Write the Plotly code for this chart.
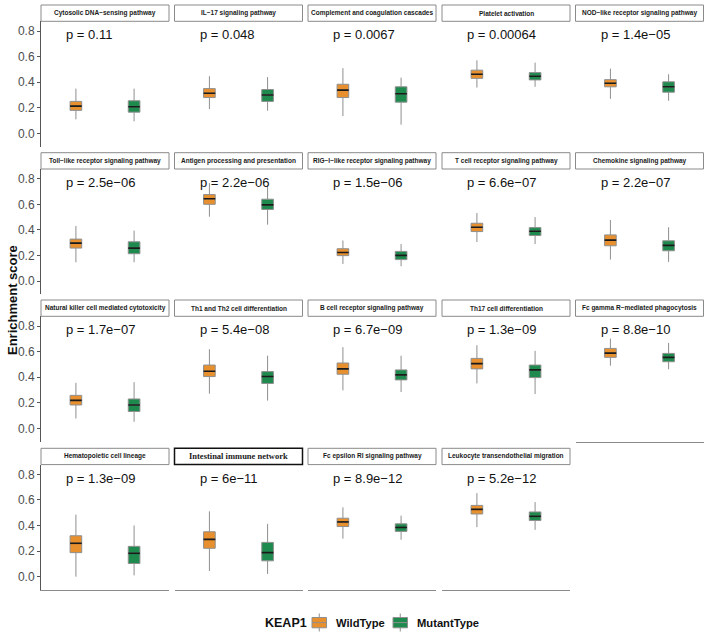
import plotly.graph_objects as go

# ---------------- data ----------------
pathways = ["Cytosolic DNA−sensing pathway", "IL−17 signaling pathway",
            "Complement and coagulation cascades", "Platelet activation",
            "NOD−like receptor signaling pathway", "Toll−like receptor signaling pathway",
            "Antigen processing and presentation", "RIG−I−like receptor signaling pathway",
            "T cell receptor signaling pathway", "Chemokine signaling pathway",
            "Natural killer cell mediated cytotoxicity", "Th1 and Th2 cell differentiation",
            "B cell receptor signaling pathway", "Th17 cell differentiation",
            "Fc gamma R−mediated phagocytosis", "Hematopoietic cell lineage",
            "Intestinal immune network", "Fc epsilon RI signaling pathway",
            "Leukocyte transendothelial migration"]

p_labels = ["p = 0.11", "p = 0.048", "p = 0.0067", "p = 0.00064", "p = 1.4e−05",
            "p = 2.5e−06", "p = 2.2e−06", "p = 1.5e−06", "p = 6.6e−07", "p = 2.2e−07",
            "p = 1.7e−07", "p = 5.4e−08", "p = 6.7e−09", "p = 1.3e−09", "p = 8.8e−10",
            "p = 1.3e−09", "p = 6e−11", "p = 8.9e−12", "p = 5.2e−12"]

legend_title = "KEAP1"
groups = ["WildType", "MutantType"]
group_colors = ["#E8902D", "#1E8A4E"]

wt_upper = [0.35, 0.447, 0.51, 0.571, 0.506, 0.431, 0.766, 0.317, 0.532, 0.477,
            0.356, 0.619, 0.635, 0.65, 0.702, 0.485, 0.511, 0.542, 0.653]
wt_q3 = [0.25, 0.35, 0.384, 0.494, 0.42, 0.328, 0.676, 0.253, 0.452, 0.361,
         0.258, 0.495, 0.511, 0.547, 0.625, 0.32, 0.351, 0.457, 0.557]
wt_med = [0.213, 0.314, 0.338, 0.462, 0.392, 0.297, 0.643, 0.224, 0.421, 0.32,
          0.219, 0.446, 0.465, 0.506, 0.588, 0.261, 0.292, 0.428, 0.526]
wt_q1 = [0.18, 0.28, 0.28, 0.43, 0.364, 0.258, 0.60, 0.199, 0.387, 0.276,
         0.183, 0.405, 0.423, 0.465, 0.555, 0.188, 0.222, 0.392, 0.49]
wt_lower = [0.11, 0.19, 0.135, 0.358, 0.27, 0.147, 0.503, 0.134, 0.305, 0.168,
            0.077, 0.271, 0.297, 0.351, 0.49, 0.0, 0.044, 0.297, 0.387]

mt_upper = [0.35, 0.44, 0.436, 0.553, 0.462, 0.395, 0.746, 0.289, 0.50, 0.421,
            0.361, 0.568, 0.568, 0.606, 0.668, 0.40, 0.413, 0.477, 0.583]
mt_q3 = [0.255, 0.343, 0.364, 0.475, 0.403, 0.307, 0.64, 0.232, 0.418, 0.315,
         0.23, 0.444, 0.457, 0.495, 0.586, 0.237, 0.268, 0.413, 0.506]
mt_med = [0.208, 0.30, 0.31, 0.447, 0.364, 0.258, 0.596, 0.201, 0.39, 0.279,
          0.183, 0.405, 0.418, 0.457, 0.555, 0.183, 0.188, 0.385, 0.472]
mt_q1 = [0.166, 0.25, 0.244, 0.418, 0.322, 0.214, 0.56, 0.168, 0.356, 0.237,
         0.132, 0.351, 0.379, 0.397, 0.521, 0.103, 0.124, 0.354, 0.439]
mt_lower = [0.094, 0.177, 0.068, 0.364, 0.255, 0.147, 0.441, 0.116, 0.289, 0.15,
            0.052, 0.217, 0.284, 0.268, 0.462, 0.01, 0.021, 0.289, 0.366]

y_ticks = [0.0, 0.2, 0.4, 0.6, 0.8]
y_tick_labels = ["0.0", "0.2", "0.4", "0.6", "0.8"]

# ---------------- layout geometry (pixels) ----------------
W, H = 709, 644
col_left = [41, 174.5, 308, 442, 575.5]
panel_w = 128
row_top = [5, 152.7, 300, 448.3]
strip_h = 16.3
panel_h = 141.7
y_range = [-0.104, 0.876]
x_range = [0.4, 2.6]
box_w = 0.2
font_main = "Liberation Sans, Arial, sans-serif"
box_line = "#8f8f8f"


def px(x):
    return x / W


def py(y):
    return 1 - y / H


stats = [
    (wt_lower, wt_q1, wt_med, wt_q3, wt_upper),
    (mt_lower, mt_q1, mt_med, mt_q3, mt_upper),
]

fig = go.Figure()
shapes = []
annotations = []
layout_axes = {}

for i, name in enumerate(pathways):
    r, c = divmod(i, 5)
    n = i + 1
    xa = "x" if n == 1 else f"x{n}"
    ya = "y" if n == 1 else f"y{n}"
    xkey = "xaxis" if n == 1 else f"xaxis{n}"
    ykey = "yaxis" if n == 1 else f"yaxis{n}"

    x0 = px(col_left[c])
    x1 = px(col_left[c] + panel_w)
    top_px = row_top[r] + strip_h
    bot_px = row_top[r] + panel_h
    yd = [py(bot_px), py(top_px)]

    for g, grp in enumerate(groups):
        lo, q1, md, q3, hi = stats[g]
        pos = g + 1
        fig.add_trace(go.Box(
            x=[pos], q1=[q1[i]], median=[md[i]], q3=[q3[i]],
            lowerfence=[lo[i]], upperfence=[hi[i]],
            width=box_w, whiskerwidth=0, boxpoints=False,
            fillcolor=group_colors[g],
            line=dict(color=box_line, width=1),
            name=grp, showlegend=False,
            xaxis=xa, yaxis=ya, hoverinfo="skip"))
    # black median segments
    mx, my = [], []
    for g in range(2):
        pos = g + 1
        med = stats[g][2][i]
        mx += [pos - box_w / 2, pos + box_w / 2, None]
        my += [med, med, None]
    fig.add_trace(go.Scatter(x=mx, y=my, mode="lines",
                             line=dict(color="#1a1a1a", width=1.6),
                             showlegend=False, hoverinfo="skip",
                             xaxis=xa, yaxis=ya))

    is_bottom = (r == 3) or (r == 2 and c == 4)
    layout_axes[xkey] = dict(domain=[x0, x1], range=x_range, anchor=ya,
                             showgrid=False, zeroline=False, showticklabels=False,
                             ticks="", showline=is_bottom, linecolor="#8a8a8a",
                             linewidth=1, fixedrange=True)
    ydict = dict(domain=yd, range=y_range, anchor=xa, showgrid=False,
                 zeroline=False, fixedrange=True)
    if c == 0:
        ydict.update(showline=True, linecolor="#555555", linewidth=1,
                     ticks="outside", ticklen=3, tickcolor="#555555",
                     tickvals=y_ticks, ticktext=y_tick_labels,
                     tickfont=dict(family=font_main, size=12, color="#4d4d4d"))
    else:
        ydict.update(showline=False, showticklabels=False, ticks="")
    layout_axes[ykey] = ydict

    # strip
    special = (name == "Intestinal immune network")
    shapes.append(dict(type="rect", xref="paper", yref="paper",
                       x0=x0, x1=x1, y0=py(row_top[r] + strip_h), y1=py(row_top[r]),
                       line=dict(color="#111111" if special else "#8a8a8a",
                                 width=1.5 if special else 1),
                       fillcolor="white", layer="above"))
    annotations.append(dict(
        xref="paper", yref="paper", x=(x0 + x1) / 2,
        y=py(row_top[r] + strip_h / 2), text=f"<b>{name}</b>",
        showarrow=False, xanchor="center", yanchor="middle",
        font=dict(family="Liberation Serif, Times New Roman, serif" if special else font_main,
                  size=8.5 if special else 6.5, color="#1a1a1a")))
    # p label
    annotations.append(dict(xref=xa, yref=ya, x=0.8, y=0.77, text=p_labels[i],
                            showarrow=False, xanchor="left", yanchor="middle",
                            font=dict(family=font_main, size=13, color="#111111")))

# y-axis title
annotations.append(dict(xref="paper", yref="paper", x=px(12), y=py(300),
                        text="<b>Enrichment score</b>", textangle=-90,
                        showarrow=False, xanchor="center", yanchor="middle",
                        font=dict(family=font_main, size=13, color="#111111")))

# ---------------- manual legend ----------------
leg_y = 622.5
annotations.append(dict(xref="paper", yref="paper", x=px(307.5), y=py(leg_y),
                        text=f"<b>{legend_title}</b>", showarrow=False,
                        xanchor="right", yanchor="middle", xshift=1,
                        font=dict(family=font_main, size=12.5, color="#111111")))
key_left = [312, 393]
text_left = [334, 414.5]
for g, grp in enumerate(groups):
    kx0, kx1 = key_left[g], key_left[g] + 14.5
    kc = (kx0 + kx1) / 2
    shapes.append(dict(type="line", xref="paper", yref="paper",
                       x0=px(kc), x1=px(kc), y0=py(613.5), y1=py(631.5),
                       line=dict(color=box_line, width=1)))
    shapes.append(dict(type="rect", xref="paper", yref="paper",
                       x0=px(kx0), x1=px(kx1), y0=py(627.8), y1=py(617.5),
                       fillcolor=group_colors[g], line=dict(color=box_line, width=1)))
    shapes.append(dict(type="line", xref="paper", yref="paper",
                       x0=px(kx0), x1=px(kx1), y0=py(622.6), y1=py(622.6),
                       line=dict(color=box_line, width=1)))
    annotations.append(dict(xref="paper", yref="paper", x=px(text_left[g]), y=py(leg_y),
                            text=f"<b>{grp}</b>", showarrow=False,
                            xanchor="left", yanchor="middle",
                            font=dict(family=font_main, size=11.2, color="#111111")))

fig.update_layout(
    width=W, height=H,
    margin=dict(l=0, r=0, t=0, b=0),
    paper_bgcolor="white", plot_bgcolor="white",
    shapes=shapes, annotations=annotations,
    boxmode="overlay", showlegend=False,
    **layout_axes,
)

fig.write_html("out.html", config={"displayModeBar": False},
               post_script="document.body.style.margin='0px';")
